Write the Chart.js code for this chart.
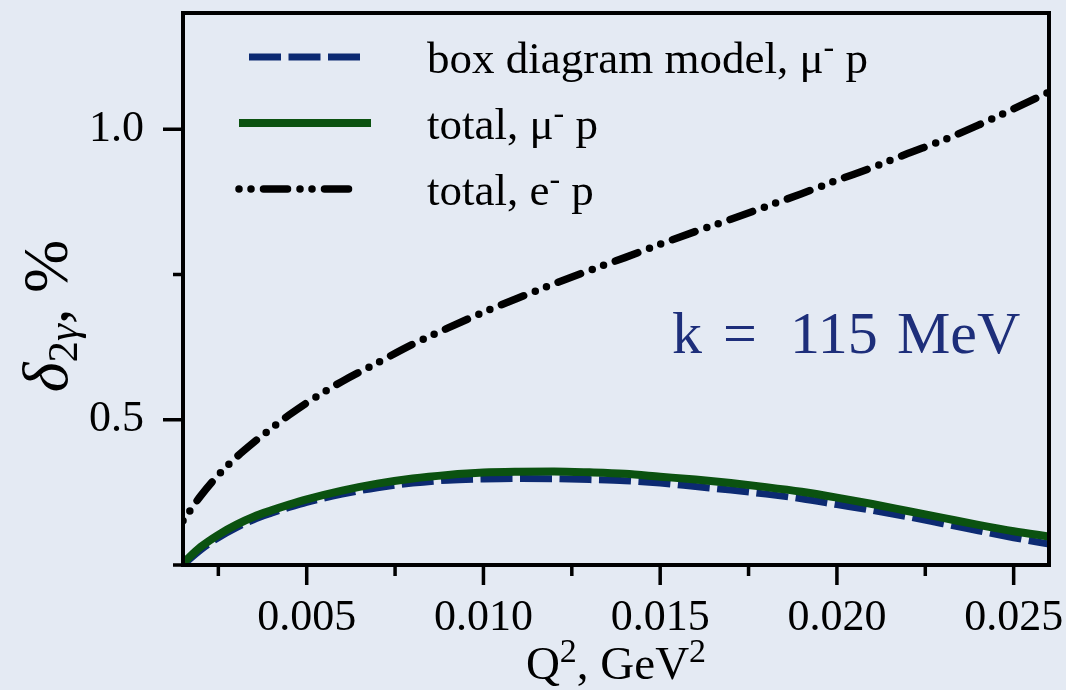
<!DOCTYPE html>
<html>
<head>
<meta charset="utf-8">
<script src="https://cdn.jsdelivr.net/npm/chart.js@4.4.1/dist/chart.umd.min.js"></script>
<style>
  html, body { margin: 0; padding: 0; background: #e4eaf3; }
  #wrap { width: 1066px; height: 690px; position: relative; }
</style>
</head>
<body>
<div id="wrap"><canvas id="c" width="1066" height="690"></canvas></div>
<script>
// Q^2 grid, GeV^2
const q2 = [0.0015, 0.002, 0.0025, 0.003, 0.0035, 0.004, 0.0045, 0.005, 0.006, 0.007,
            0.008, 0.009, 0.010, 0.011, 0.012, 0.013, 0.014, 0.015, 0.016, 0.017,
            0.018, 0.019, 0.020, 0.021, 0.022, 0.023, 0.024, 0.025, 0.026];

// delta_2gamma, %
const boxMuP = [0.250, 0.276, 0.297, 0.314, 0.328, 0.339, 0.349, 0.358, 0.372, 0.383,
                0.391, 0.396, 0.398, 0.399, 0.3985, 0.397, 0.395, 0.391, 0.385, 0.379,
                0.372, 0.364, 0.354, 0.344, 0.333, 0.321, 0.309, 0.297, 0.286];
const totalMuP = [0.253, 0.281, 0.302, 0.319, 0.333, 0.344, 0.354, 0.363, 0.378, 0.390,
                  0.399, 0.405, 0.409, 0.4105, 0.411, 0.4095, 0.407, 0.402, 0.397, 0.391,
                  0.384, 0.376, 0.366, 0.355, 0.343, 0.331, 0.319, 0.308, 0.299];
const totalEP = [0.326, 0.369, 0.405, 0.435, 0.461, 0.485, 0.508, 0.529, 0.566, 0.598,
                 0.630, 0.658, 0.685, 0.710, 0.734, 0.757, 0.779, 0.802, 0.824, 0.845,
                 0.867, 0.889, 0.912, 0.934, 0.958, 0.981, 1.007, 1.035, 1.064];

// axis ticks
const xMajorTicks = [0.005, 0.010, 0.015, 0.020, 0.025];
const xMinorTicks = [0.0025, 0.0075, 0.0125, 0.0175, 0.0225];
const yMajorTicks = [0.5, 1.0];
const yMinorTicks = [0.25, 0.75];

const seriesLabels = [
  [{ t: 'box diagram model, \u03bc' }, { t: '-', sup: true }, { t: ' p' }],
  [{ t: 'total, \u03bc' }, { t: '-', sup: true }, { t: ' p' }],
  [{ t: 'total, e' }, { t: '-', sup: true }, { t: ' p' }]
];

const SERIF = "'Liberation Serif', 'Times New Roman', serif";
const toXY = ys => q2.map((x, i) => ({ x, y: ys[i] }));

const styles = [
  { color: '#0c2a72', width: 7, dash: [32, 7.5], cap: 'butt' },
  { color: '#0b5210', width: 8, dash: [], cap: 'butt' },
  { color: '#000000', width: 7.5, dash: [0, 12, 0, 12.5, 24, 12.5], cap: 'round' }
];

function drawRich(ctx, segs, x, y, size) {
  let cx = x;
  for (const s of segs) {
    if (s.sup) {
      ctx.font = Math.round(size * 0.72) + 'px ' + SERIF;
      ctx.fillText(s.t, cx, y - size * 0.36);
    } else {
      ctx.font = size + 'px ' + SERIF;
      ctx.fillText(s.t, cx, y);
    }
    cx += ctx.measureText(s.t).width;
  }
}

const decorations = {
  id: 'decorations',
  afterDatasetsDraw(chart) {
    const { ctx, chartArea: a, scales } = chart;
    const xs = scales.x, ys = scales.y;
    ctx.save();
    // frame
    ctx.strokeStyle = '#000';
    ctx.lineWidth = 4;
    ctx.strokeRect(a.left, a.top, a.right - a.left, a.bottom - a.top);
    // outward tick marks
    ctx.lineWidth = 3.5;
    ctx.beginPath();
    xMajorTicks.forEach(v => { const p = xs.getPixelForValue(v); ctx.moveTo(p, a.bottom); ctx.lineTo(p, a.bottom + 20); });
    xMinorTicks.forEach(v => { const p = xs.getPixelForValue(v); ctx.moveTo(p, a.bottom); ctx.lineTo(p, a.bottom + 11); });
    yMajorTicks.forEach(v => { const p = ys.getPixelForValue(v); ctx.moveTo(a.left, p); ctx.lineTo(a.left - 20, p); });
    yMinorTicks.forEach(v => { const p = ys.getPixelForValue(v); ctx.moveTo(a.left, p); ctx.lineTo(a.left - 10, p); });
    ctx.stroke();

    // legend
    const rowY = [a.top + 44, a.top + 110, a.top + 176];
    const lineSpan = [[a.left + 66, a.left + 178], [a.left + 56, a.left + 188], [a.left + 56, a.left + 178]];
    styles.forEach((s, i) => {
      ctx.beginPath();
      ctx.strokeStyle = s.color;
      ctx.lineWidth = s.width;
      ctx.lineCap = s.cap;
      ctx.setLineDash(s.dash);
      ctx.moveTo(lineSpan[i][0], rowY[i]);
      ctx.lineTo(lineSpan[i][1], rowY[i]);
      ctx.stroke();
    });
    ctx.setLineDash([]);
    ctx.fillStyle = '#000';
    ctx.textBaseline = 'alphabetic';
    ctx.textAlign = 'left';
    seriesLabels.forEach((segs, i) => drawRich(ctx, segs, a.left + 244, rowY[i] + 16, 45));

    // beam energy note
    ctx.fillStyle = '#1d2e7a';
    ctx.font = '60px ' + SERIF;
    const ny = a.top + 340;
    ctx.fillText('k', a.right - 377, ny);
    ctx.fillText('=', a.right - 326, ny);
    ctx.fillText('115', a.right - 259, ny);
    ctx.fillText('MeV', a.right - 152, ny);

    // axis titles
    ctx.fillStyle = '#000';
    const xt = [{ t: 'Q' }, { t: '2', sup: true }, { t: ', GeV' }, { t: '2', sup: true }];
    let w = 0;
    xt.forEach(s => { ctx.font = (s.sup ? 34 : 47) + 'px ' + SERIF; w += ctx.measureText(s.t).width; });
    drawRich(ctx, xt, 616 - w / 2, 679, 47);

    ctx.translate(67, 316);
    ctx.rotate(-Math.PI / 2);
    const yt = [
      { t: '\u03b4', f: 'italic 64px ' + SERIF, dy: 0 },
      { t: '2', f: '43px ' + SERIF, dy: 10 },
      { t: '\u03b3', f: 'italic 43px ' + SERIF, dy: 10 },
      { t: ', ', f: '62px ' + SERIF, dy: 0 },
      { t: '%', f: '64px ' + SERIF, dy: 0 }
    ];
    let tw = 0;
    yt.forEach(s => { ctx.font = s.f; tw += ctx.measureText(s.t).width; });
    let cx = -tw / 2;
    yt.forEach(s => { ctx.font = s.f; ctx.fillText(s.t, cx, s.dy); cx += ctx.measureText(s.t).width; });
    ctx.restore();
  }
};

const datasets = [
  { label: 'box', data: toXY(boxMuP), order: 3 },
  { label: 'totalMu', data: toXY(totalMuP), order: 2 },
  { label: 'totalE', data: toXY(totalEP), order: 1 }
].map((d, i) => Object.assign(d, {
  borderColor: styles[i].color,
  borderWidth: styles[i].width,
  borderDash: styles[i].dash,
  borderCapStyle: styles[i].cap,
  pointRadius: 0,
  fill: false,
  cubicInterpolationMode: 'monotone'
}));

function noPad(s) {
  s.paddingTop = 0; s.paddingBottom = 0; s.paddingLeft = 0; s.paddingRight = 0;
}

new Chart(document.getElementById('c'), {
  type: 'line',
  data: { datasets },
  options: {
    responsive: false,
    animation: false,
    events: [],
    layout: { padding: { top: 13, right: 17, left: 0, bottom: 0 } },
    plugins: { legend: { display: false }, tooltip: { enabled: false } },
    scales: {
      x: {
        type: 'linear', min: 0.0015, max: 0.026,
        afterBuildTicks: s => { s.ticks = xMajorTicks.map(v => ({ value: v })); },
        afterFit: s => { s.height = 125; noPad(s); },
        grid: { display: false },
        border: { display: false },
        ticks: {
          autoSkip: false, maxRotation: 0, padding: 19, color: '#000',
          font: { family: SERIF, size: 44 },
          callback: v => v.toFixed(3)
        }
      },
      y: {
        type: 'linear', min: 0.25, max: 1.2,
        afterBuildTicks: s => { s.ticks = yMajorTicks.map(v => ({ value: v })); },
        afterFit: s => { s.width = 183; noPad(s); },
        grid: { display: false },
        border: { display: false },
        ticks: {
          padding: 31, color: '#000',
          font: { family: SERIF, size: 44 },
          callback: v => v.toFixed(1)
        }
      }
    }
  },
  plugins: [decorations]
});
</script>
</body>
</html>
